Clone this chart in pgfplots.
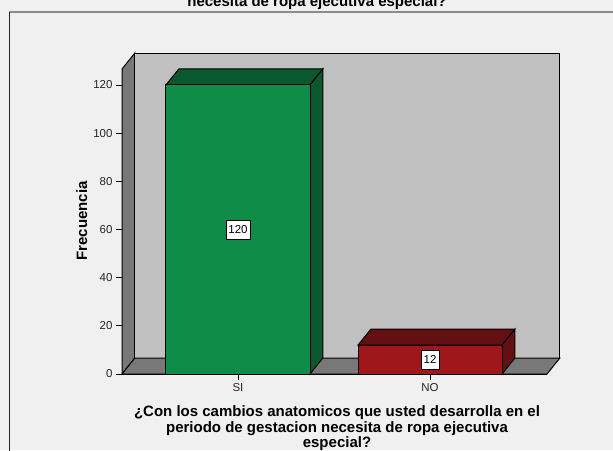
\documentclass[border=0pt]{standalone}
\usepackage{fontspec}
\setmainfont{Liberation Sans}
\usepackage{pgfplots}
\pgfplotsset{compat=1.18}

\definecolor{bgc}{HTML}{F0F0F0}
\definecolor{wallc}{HTML}{C0C0C0}
\definecolor{sidec}{HTML}{787878}
\definecolor{sigreen}{HTML}{0F8C48}
\definecolor{sigreendk}{HTML}{0A582D}
\definecolor{nored}{HTML}{A0171B}
\definecolor{noreddk}{HTML}{640F12}

\begin{document}
\begin{tikzpicture}
% page = 613 x 450 px, 1px = 1pt
\path[use as bounding box, fill=bgc] (0pt,0pt) rectangle (613pt,-450pt);
\draw[color=gray!90, line width=1.6pt] (9pt,-12pt) -- (614pt,-12pt);
\draw[color=black!85, line width=1pt] (9pt,-12pt) -- (9pt,-451pt);
\node[font=\bfseries\fontsize{15}{17}\selectfont, anchor=base] at (317pt,-6pt) {necesita de ropa ejecutiva especial?};

\begin{axis}[
  at={(122pt,-374pt)}, anchor=south west,
  scale only axis, width=425pt, height=305pt,
  xmin=-0.604, xmax=1.609, ymin=0, ymax=126.6,
  clip=false,
  axis x line*=bottom, axis y line*=left,
  axis line style={black, line width=1pt},
  tick align=outside, major tick length=6pt,
  tick style={black, line width=0.8pt},
  ytick={0,20,...,120},
  xtick={0,1}, xticklabels={SI,NO},
  tick label style={font=\fontsize{11.5}{13}\selectfont, text=black!85},
  /pgf/number format/assume math mode=true,
]
% walls: depth offset dx = 0.067, dy = 6.64
\fill[sidec, draw=black, line width=1pt] (axis cs:-0.604,0) -- (axis cs:-0.604,126.6) -- (axis cs:-0.537,133.24) -- (axis cs:-0.537,6.64) -- cycle;
\fill[wallc, draw=black, line width=1pt] (axis cs:-0.537,6.64) rectangle (axis cs:1.676,133.24);
\fill[sidec, draw=black, line width=1pt] (axis cs:-0.604,0) -- (axis cs:1.609,0) -- (axis cs:1.676,6.64) -- (axis cs:-0.537,6.64) -- cycle;

% top and side faces of the bars
\addplot[fill=sigreendk, draw=black, line width=1pt] coordinates {(-0.375,120) (0.375,120) (0.442,126.64) (-0.308,126.64)} -- cycle;
\addplot[fill=sigreendk, draw=black, line width=1pt] coordinates {(0.375,0) (0.375,120) (0.442,126.64) (0.442,6.64)} -- cycle;
\addplot[fill=noreddk, draw=black, line width=1pt] coordinates {(0.625,12) (1.375,12) (1.442,18.64) (0.692,18.64)} -- cycle;
\addplot[fill=noreddk, draw=black, line width=1pt] coordinates {(1.375,0) (1.375,12) (1.442,18.64) (1.442,6.64)} -- cycle;

% front faces
\addplot[ybar, bar width=0.75, bar shift=0pt, fill=sigreen, draw=black, line width=1pt] coordinates {(0,120)};
\addplot[ybar, bar width=0.75, bar shift=0pt, fill=nored, draw=black, line width=1pt] coordinates {(1,12)};

% value labels at half height
\addplot[only marks, mark=none, point meta=explicit symbolic,
  nodes near coords,
  every node near coord/.style={anchor=center, draw=black, line width=0.8pt, fill=white,
    font=\fontsize{11.5}{13}\selectfont, inner xsep=2.5pt, inner ysep=0pt, minimum height=19pt}]
  coordinates {(0,60) [120] (1,6) [12]};
\end{axis}

\node[rotate=90, anchor=base, font=\bfseries\fontsize{15}{17}\selectfont] at (87pt,-221pt) {Frecuencia};
\node[anchor=base, font=\bfseries\fontsize{15}{17}\selectfont] at (337pt,-416pt) {¿Con los cambios anatomicos que usted desarrolla en el};
\node[anchor=base, font=\bfseries\fontsize{15}{17}\selectfont] at (337pt,-432pt) {periodo de gestacion necesita de ropa ejecutiva};
\node[anchor=base, font=\bfseries\fontsize{15}{17}\selectfont] at (337pt,-447.5pt) {especial?};
\end{tikzpicture}
\end{document}
